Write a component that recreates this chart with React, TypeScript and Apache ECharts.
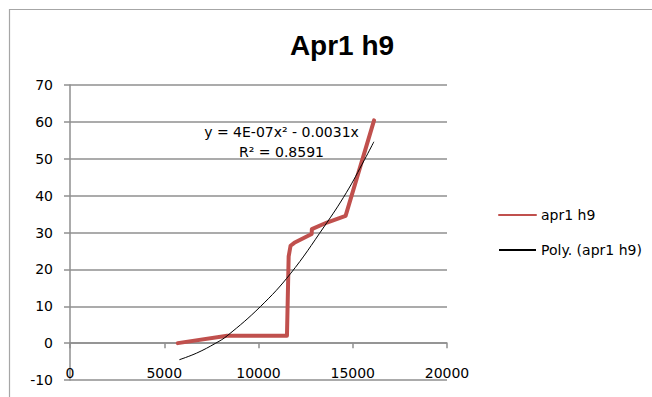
import React, { useEffect, useRef } from "react";
import * as echarts from "echarts";

const chartTitle = "Apr1 h9";
const seriesName = "apr1 h9";
const trendName = "Poly. (apr1 h9)";
const equationText = "y = 4E-07x² - 0.0031x";
const r2Text = "R² = 0.8591";

const xValues = [5720, 8340, 11510, 11600, 11700, 11900, 12820, 12830, 13630, 14620, 16130];
const yValues = [0, 2, 2, 23.5, 26.4, 27.2, 29.6, 30.9, 32.7, 34.5, 60.4];

const trendX = [5800, 6720, 7735, 8340, 10100, 11690, 13470, 14660, 15630, 16120];
const trendY = [-4.5, -2.7, 0, 2, 9.9, 18.8, 31.5, 40.8, 49.8, 54.6];

const xTicks = [0, 20000, 5000];
const yTicks = [-10, 70, 10];

export default function App() {
  const ref = useRef<HTMLDivElement>(null);
  useEffect(() => {
    if (!ref.current) return;
    const chart = echarts.init(ref.current, null, { renderer: "svg" });
    const font = "DejaVu Sans";
    const gridColor = "#8f8f8f";
    chart.setOption({
      animation: false,
      backgroundColor: "#fff",
      title: {
        text: chartTitle,
        left: 337,
        top: 26,
        textAlign: "center",
        textStyle: { fontFamily: "Liberation Sans", fontWeight: "bold", fontSize: 28, color: "#000" },
      },
      grid: { left: 70, right: 205, top: 85, bottom: 17 },
      legend: {
        orient: "vertical",
        left: 498,
        top: 208,
        itemWidth: 37,
        itemHeight: 14,
        itemGap: 21,
        padding: 0,
        itemStyle: { opacity: 0 },
        textStyle: { fontFamily: font, fontSize: 14, color: "#000" },
        data: [seriesName, trendName],
      },
      xAxis: [
        {
          type: "value",
          min: xTicks[0],
          max: xTicks[1],
          interval: xTicks[2],
          axisLine: { onZero: true, lineStyle: { color: gridColor, width: 1.5 } },
          axisTick: { show: true, length: 5, lineStyle: { color: gridColor, width: 1.5 } },
          axisLabel: { show: false },
          splitLine: { show: false },
        },
        {
          type: "value",
          position: "bottom",
          min: xTicks[0],
          max: xTicks[1],
          interval: xTicks[2],
          axisLine: { show: false, onZero: false },
          axisTick: { show: false },
          splitLine: { show: false },
          axisLabel: {
            margin: -14,
            fontFamily: font,
            fontSize: 14,
            color: "#000",
            formatter: (v: number) => String(v),
          },
        },
      ],
      yAxis: {
        type: "value",
        min: yTicks[0],
        max: yTicks[1],
        interval: yTicks[2],
        axisLine: { show: true, onZero: false, lineStyle: { color: gridColor, width: 1.5 } },
        axisTick: { show: true, length: 6, lineStyle: { color: gridColor, width: 1.5 } },
        axisLabel: { margin: 17, fontFamily: font, fontSize: 14, color: "#000" },
        splitLine: { show: true, lineStyle: { color: gridColor, width: 1.5 } },
      },
      series: [
        {
          name: seriesName,
          type: "line",
          xAxisIndex: 0,
          data: xValues.map((x, i) => [x, yValues[i]]),
          symbol: "none",
          lineStyle: { color: "#C0504D", width: 4, cap: "round", join: "round" },
          itemStyle: { color: "#C0504D" },
          z: 3,
        },
        {
          name: trendName,
          type: "line",
          xAxisIndex: 0,
          data: trendX.map((x, i) => [x, trendY[i]]),
          symbol: "none",
          smooth: 0.4,
          lineStyle: { color: "#000", width: 1 },
          itemStyle: { color: "#000" },
          z: 4,
        },
      ],
      graphic: [
        {
          type: "rect",
          shape: { x: 9.5, y: 9.5, width: 700, height: 500 },
          style: { fill: "none", stroke: "#a6a6a6", lineWidth: 1.2 },
          silent: true,
          z: -1,
        },
        {
          type: "text",
          x: 281.5,
          y: 132,
          style: { text: equationText, fontFamily: font, fontSize: 14, fill: "#000", align: "center", verticalAlign: "middle" },
          z: 10,
        },
        {
          type: "text",
          x: 281.5,
          y: 152,
          style: { text: r2Text, fontFamily: font, fontSize: 14, fill: "#000", align: "center", verticalAlign: "middle" },
          z: 10,
        },
      ],
    });
    return () => chart.dispose();
  }, []);
  return (
    <div
      ref={ref}
      style={{ position: "fixed", left: 0, top: 0, width: 652, height: 397 }}
    />
  );
}
